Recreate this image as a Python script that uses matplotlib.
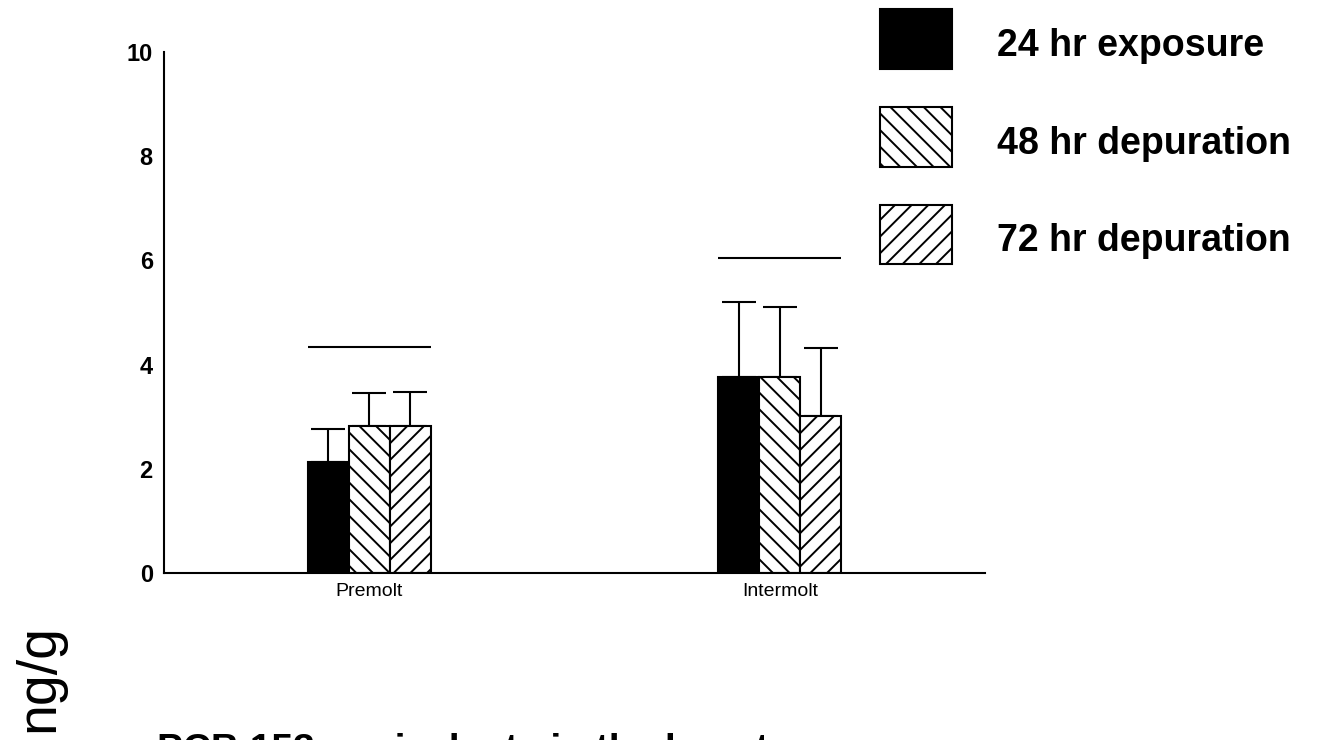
import matplotlib
matplotlib.use("Agg")
import matplotlib.pyplot as plt
import numpy as np

plt.rcParams['font.family'] = ['Liberation Sans', 'DejaVu Sans']
plt.rcParams['hatch.linewidth'] = 1.4

# data
groups = ["Premolt", "Intermolt"]
series = ["24 hr exposure", "48 hr depuration", "72 hr depuration"]
means = [[2.13, 3.76],
         [2.82, 3.76],
         [2.82, 3.01]]
upper_err = [[0.63, 1.44],
             [0.63, 1.34],
             [0.65, 1.31]]
group_lines = [4.33, 6.05]

hatches = [None, "\\\\", "//"]
colors = ["black", "white", "white"]

fig = plt.figure(figsize=(13.19, 7.40), dpi=100)
ax = fig.add_axes([0.1243, 0.2257, 0.6225, 0.704])

x = np.arange(len(groups))
w = 0.1
handles = []
for i in range(len(series)):
    pos = x + (i - 1) * w
    b = ax.bar(pos, means[i], w, color=colors[i], edgecolor="black",
               linewidth=1.5, hatch=hatches[i], label=series[i], zorder=2)
    handles.append(b)
    ax.errorbar(pos, means[i], yerr=[np.zeros(len(groups)), upper_err[i]],
                fmt="none", ecolor="black", elinewidth=1.5, capsize=12.2,
                capthick=1.5, zorder=1)

ax.hlines(group_lines, x - 1.5 * w, x + 1.5 * w, colors="black", linewidth=1.5)

ax.set_xlim(-0.5, 1.5)
ax.set_ylim(0, 10)
ax.set_yticks([0, 2, 4, 6, 8, 10])
ax.set_xticks(x)
ax.set_xticklabels(groups, fontsize=14)
for lab in ax.get_yticklabels():
    lab.set_fontweight("bold")
    lab.set_fontsize(17)
ax.tick_params(axis="both", length=0)
ax.tick_params(axis="y", pad=8)
ax.tick_params(axis="x", pad=7)
for s in ["top", "right"]:
    ax.spines[s].set_visible(False)
for s in ["left", "bottom"]:
    ax.spines[s].set_linewidth(1.5)

leg = fig.legend(handles=handles, loc="upper left",
                 bbox_to_anchor=(880 / 1319, 1 - 9 / 740), frameon=False,
                 prop={"size": 27, "weight": "bold"}, handlelength=1.92,
                 handleheight=2.07, handletextpad=1.2, labelspacing=1.02,
                 borderpad=0, borderaxespad=0)
# nudge label text a little lower, as in the original
for t in leg.get_texts():
    t.set_y(-5)

fig.text(39 / 1319, 1 - 678 / 740, "ng/g", rotation=90, fontsize=40,
         ha="center", va="center")
fig.text(157 / 1319, 1 - 733 / 740, "PCB 153 equivalents in the hepatopancreas",
         fontsize=28, fontweight="bold", ha="left", va="top")

fig.savefig("out.png", dpi=100)
